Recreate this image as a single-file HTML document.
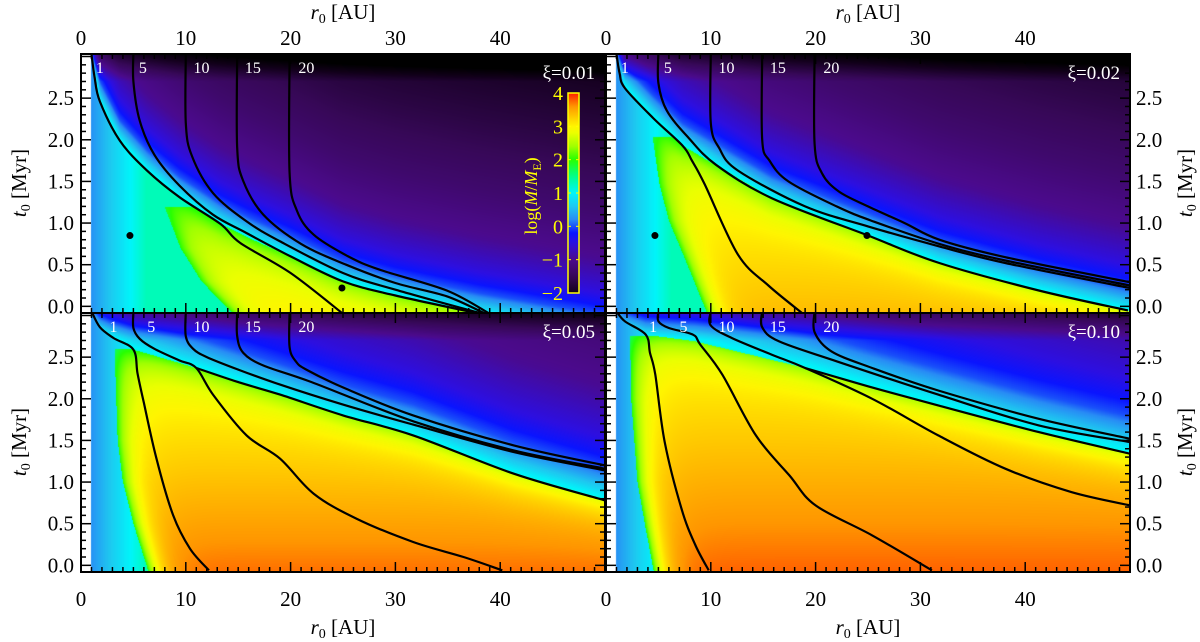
<!DOCTYPE html>
<html><head><meta charset="utf-8">
<style>
html,body{margin:0;padding:0;background:#fff;}
#wrap{position:relative;width:1200px;height:642px;overflow:hidden;background:#fff;font-family:"Liberation Serif",serif;}
canvas{position:absolute;}
svg{position:absolute;left:0;top:0;}
</style></head>
<body>
<div id="wrap">
<canvas id="cv0" width="524" height="259" style="left:81px;top:54px"></canvas>
<canvas id="cv1" width="524" height="259" style="left:606px;top:54px"></canvas>
<canvas id="cv2" width="524" height="259" style="left:81px;top:313px"></canvas>
<canvas id="cv3" width="524" height="259" style="left:606px;top:313px"></canvas>
<svg id="ov" width="1200" height="642"></svg>
</div>
<script>
// ---- data ----
const xiLabels = ["ξ=0.01","ξ=0.02","ξ=0.05","ξ=0.10"];
const contourLabels = ["1","5","10","15","20"];
const xTicks = [0,10,20,30,40];
const yTicks = [0.0,0.5,1.0,1.5,2.0,2.5];
const cbTicks = [-2,-1,0,1,2,3,4];
// contour lines [r0, t0]
const p1_c1=[[1,3.03],[1.3,2.75],[1.8,2.46],[3.7,1.99],[6.3,1.63],[9.4,1.31],[13.3,0.99],[15.2,0.76],[20,0.4],[25,-0.09]];
const p1_c5=[[5,3.05],[5,2.7],[5.6,2.23],[7,1.82],[9.4,1.45],[12.6,1.1],[15.8,0.88],[20,0.6],[25,0.3],[30,0.13],[38.1,-0.09]];
const p1_c10=[[10,3.05],[10,2.2],[10.6,1.8],[12.6,1.36],[15.8,1.02],[19,0.78],[25,0.4],[30,0.2],[38.3,-0.09]];
const p1_c15=[[14.9,3.05],[14.9,1.9],[15.5,1.5],[17.4,1.1],[21,0.75],[25.3,0.5],[30,0.28],[34.9,0.12],[38.6,-0.09]];
const p1_c20=[[19.9,3.05],[19.9,1.6],[20.6,1.15],[22.2,0.86],[25.5,0.6],[28.5,0.44],[34.9,0.19],[39.0,-0.09]];
const p2_c1=[[1,3.03],[1.3,2.8],[1.8,2.62],[4.5,2.26],[7.3,1.93],[8.2,1.75],[9.4,1.47],[12.6,0.62],[15.5,0.25],[18.8,-0.09]];
const p2_c5=[[5,3.05],[5,2.68],[5.8,2.35],[7.9,2.02],[10.5,1.7],[15.8,1.3],[25,0.85],[31.8,0.52],[41.3,0.19],[49.8,-0.05]];
const p2_c10=[[10,3.05],[10,2.2],[10.8,1.9],[12.6,1.63],[19,1.2],[25,0.96],[31.8,0.72],[38.1,0.52],[50,0.22]];
const p2_c15=[[14.9,3.05],[14.9,2.0],[15.6,1.75],[17.4,1.5],[22,1.2],[25.3,1.03],[31.8,0.75],[38.1,0.55],[50,0.25]];
const p2_c20=[[19.9,3.05],[19.9,1.95],[20.6,1.6],[22.2,1.38],[25,1.2],[28.5,1.0],[31.8,0.8],[38.1,0.59],[50,0.29]];
const p3_c1=[[1,3.05],[1.8,2.86],[3.1,2.73],[5,2.59],[5.4,2.3],[6,1.95],[7.2,1.28],[8.8,0.6],[10.4,0.2],[12.2,-0.06]];
const p3_c5=[[5,3.05],[5,2.85],[5.6,2.72],[7,2.6],[9.4,2.46],[11,2.37],[12.6,2.05],[15.8,1.56],[19,1.28],[22.2,0.86],[26.3,0.56],[31.7,0.28],[36.5,0.1],[40.2,-0.06]];
const p3_c10=[[10,3.05],[10,2.75],[10.7,2.6],[12,2.5],[15,2.35],[19,2.17],[25,1.93],[31.7,1.69],[41.3,1.36],[50,1.14]];
const p3_c15=[[14.9,3.05],[14.9,2.75],[15.5,2.55],[17.4,2.4],[22,2.2],[31.7,1.73],[41.3,1.38],[50,1.16]];
const p3_c20=[[19.9,3.05],[19.9,2.62],[20.5,2.45],[21.5,2.35],[25.3,2.12],[31.7,1.8],[41.3,1.44],[50,1.2]];
const p3_band=[[11,2.37],[15,2.2],[19,2.05],[25,1.8],[31.7,1.56],[41.3,1.1],[50,0.78]];
const p4_c1=[[1,3.05],[1.8,2.93],[3.8,2.77],[4.2,2.55],[4.7,2.29],[5.6,1.48],[7.2,0.68],[8.5,0.25],[9.8,-0.06]];
const p4_c5=[[5,3.05],[5,2.93],[6,2.85],[8.3,2.77],[9,2.65],[11.1,2.29],[14.3,1.56],[17.5,1.08],[20,0.72],[25.4,0.36],[31.1,-0.06]];
const p4_c10=[[10,3.05],[10,2.88],[12,2.73],[15.8,2.53],[19,2.37],[25.4,2.0],[31.7,1.56],[38.1,1.16],[44.4,0.88],[50,0.72]];
const p4_c15=[[14.9,3.05],[14.9,2.86],[16.5,2.69],[22,2.45],[31.7,2.05],[41.3,1.68],[50,1.48]];
const p4_c20=[[19.9,3.05],[19.9,2.8],[21.5,2.57],[25.4,2.37],[31.7,2.1],[41.3,1.76],[50,1.52]];
const p4_band=[[19,2.37],[25,2.15],[31.7,1.92],[41.3,1.6],[50,1.34]];
// region boundaries: edge [r0,t0], front [t0,r0]
const p1_edge=[[1,3.03],[1.8,2.46],[3.7,1.99],[6.3,1.63],[9.4,1.31],[13.3,0.99],[16,0.82],[20,0.6],[25,0.3],[30,0.12],[38,-0.09],[50,-0.35]];
const p2_edge=[[1,3.03],[1.8,2.62],[4.5,2.26],[7.3,1.93],[15.8,1.3],[25,0.85],[31.8,0.52],[41.3,0.19],[50,-0.06]];
const p3_edge=[[1,3.05],[1.8,2.86],[3.1,2.73],[5,2.59],[11,2.37],[19,2.05],[25,1.8],[31.7,1.56],[41.3,1.1],[50,0.78]];
const p4_edge=[[1,3.05],[1.8,2.93],[3.8,2.77],[8.5,2.69],[19,2.37],[25,2.15],[31.7,1.92],[41.3,1.6],[50,1.34]];
const p1_front=[[1.19,8],[0.7,9.5],[0.3,11.5],[-0.1,14.6]];
const p2_front=[[2.03,4.45],[1.47,5.1],[1.03,6.0],[0.55,7.6],[-0.1,9.7]];
const p3_front=[[2.6,3.2],[1.5,3.5],[1.0,4.0],[0.5,5.0],[-0.1,6.5]];
const p4_front=[[2.75,2.3],[2.0,2.4],[1.0,3.0],[0.5,3.7],[-0.1,4.6]];
const grownBase=[3.0,3.35,3.7,3.75];
const grownSlope=[0.3,0.3,0.35,0.3];
const bandScale=[1.0,1.1,1.5,1.8];
const aboveDist=[0,0.08,0.25,0.5,0.9,1.5,2.3,3.2];
const aboveVal=[1.1,0.7,0.0,-0.5,-0.95,-1.3,-1.65,-2.0];
const p1_dots=[[4.67,0.85],[24.9,0.22]];
const p2_dots=[[4.67,0.85],[24.9,0.85]];
const labelR=[[1.8,5.9,11.5,16.4,21.5],[1.8,5.9,11.5,16.4,21.5],[3.1,6.7,11.5,16.4,21.5],[4.5,7.4,11.5,16.4,21.5]];

// ---- geometry ----
const W=524,H=259,R0=0,R1=50,T0=-0.08,T1=3.03;
const origins=[[81,54],[606,54],[81,313],[606,313]];
function xs(p,r){return origins[p][0]+(r-R0)/(R1-R0)*W;}
function ys(p,t){return origins[p][1]+(T1-t)/(T1-T0)*H;}

const stops=[[-2.3,[0,0,0]],[-2.0,[18,0,26]],[-1.5,[55,8,88]],[-1.0,[75,10,140]],[-0.5,[45,15,225]],[-0.2,[10,20,255]],[0.2,[40,140,245]],[0.6,[30,200,240]],[1.0,[0,245,250]],[1.5,[0,255,140]],[2.0,[40,255,0]],[2.4,[160,255,0]],[2.8,[235,255,0]],[3.0,[255,245,0]],[3.3,[255,200,0]],[3.6,[255,150,0]],[4.0,[255,30,0]]];
function cmap(v){
  if(v<=stops[0][0])return stops[0][1];
  for(let i=1;i<stops.length;i++){if(v<=stops[i][0]){const a=stops[i-1],b=stops[i],f=(v-a[0])/(b[0]-a[0]);return [0,1,2].map(k=>a[1][k]+(b[1][k]-a[1][k])*f);}}
  return stops[stops.length-1][1];
}
function interp(arr,x){
  if(x<=arr[0][0])return arr[0][1];
  for(let i=1;i<arr.length;i++){if(x<=arr[i][0]){const a=arr[i-1],b=arr[i];return a[1]+(b[1]-a[1])*(x-a[0])/(b[0]-a[0]);}}
  return arr[arr.length-1][1];
}
function frontR(fr,t){
  if(t>fr[0][0])return Infinity;
  for(let i=1;i<fr.length;i++){if(t>=fr[i][0]){const a=fr[i-1],b=fr[i];return a[1]+(b[1]-a[1])*(t-a[0])/(b[0]-a[0]);}}
  return fr[fr.length-1][1];
}
const edges=[p1_edge,p2_edge,p3_edge,p4_edge];
const fronts=[p1_front,p2_front,p3_front,p4_front];
const aboveTable=aboveDist.map((d,i)=>[d,aboveVal[i]]);
function value(p,r,t){
  const E=interp(edges[p],r);
  if(t>E){let v=interp(aboveTable,(t-E)/bandScale[p]);v-=Math.max(0,t-2.7)*2.5;return v;}
  const F=frontR(fronts[p],t);
  if(r<F){return Math.min(1.3,0.25+0.2*(r-1));}
  const g=grownBase[p]-grownSlope[p]*t;
  let v=g-(g-2.0)*Math.exp(-(r-F)/1.2);
  v-=0.7*Math.exp(-(E-t)/0.2);
  return v;
}
for(let p=0;p<4;p++){
  const c=document.getElementById('cv'+p).getContext('2d');
  const img=c.createImageData(W,H);
  for(let py=0;py<H;py++){for(let px=0;px<W;px++){
    const r=R0+(px+0.5)/W*(R1-R0),t=T1-(py+0.5)/H*(T1-T0);
    const i=(py*W+px)*4;
    if(r<1){img.data[i]=255;img.data[i+1]=255;img.data[i+2]=255;img.data[i+3]=255;continue;}
    const col=cmap(value(p,r,t));
    img.data[i]=col[0];img.data[i+1]=col[1];img.data[i+2]=col[2];img.data[i+3]=255;
  }}
  c.putImageData(img,0,0);
}

// ---- overlay ----
const NS="http://www.w3.org/2000/svg";
const svg=document.getElementById('ov');
function mk(tag,attrs,parent){const e=document.createElementNS(NS,tag);for(const k in attrs)e.setAttribute(k,attrs[k]);(parent||svg).appendChild(e);return e;}
function smoothPath(pts){
  let d="M"+pts[0][0].toFixed(1)+","+pts[0][1].toFixed(1);
  for(let i=0;i<pts.length-1;i++){
    const p0=pts[Math.max(0,i-1)],p1=pts[i],p2=pts[i+1],p3=pts[Math.min(pts.length-1,i+2)];
    const c1=[p1[0]+(p2[0]-p0[0])/6,p1[1]+(p2[1]-p0[1])/6],c2=[p2[0]-(p3[0]-p1[0])/6,p2[1]-(p3[1]-p1[1])/6];
    d+=" C"+c1[0].toFixed(1)+","+c1[1].toFixed(1)+" "+c2[0].toFixed(1)+","+c2[1].toFixed(1)+" "+p2[0].toFixed(1)+","+p2[1].toFixed(1);
  }
  return d;
}
const defs=mk('defs',{});
for(let p=0;p<4;p++){const cp=mk('clipPath',{id:'clip'+p},defs);mk('rect',{x:origins[p][0],y:origins[p][1],width:W,height:H},cp);}
const contourSets=[
 [p1_c1,p1_c5,p1_c10,p1_c15,p1_c20],
 [p2_c1,p2_c5,p2_c10,p2_c15,p2_c20],
 [p3_c1,p3_c5,p3_c10,p3_c15,p3_c20,p3_band],
 [p4_c1,p4_c5,p4_c10,p4_c15,p4_c20,p4_band]];
const dotSets=[p1_dots,p2_dots,[],[]];
for(let p=0;p<4;p++){
  const g=mk('g',{'clip-path':'url(#clip'+p+')'});
  
  
  contourSets[p].forEach((line,k)=>{
    const pts=line.map(q=>[xs(p,q[0]),ys(p,q[1])]);
    const path=mk('path',{d:smoothPath(pts),fill:'none',stroke:'#000','stroke-width':2.2,'stroke-linejoin':'round'},g);
    
    
  });
  dotSets[p].forEach(q=>{
    const c=mk('circle',{cx:xs(p,q[0]),cy:ys(p,q[1]),r:3.5,fill:'#000'},g);
    
    
  });
  contourLabels.forEach((lab,k)=>{
    const tx=mk('text',{x:xs(p,labelR[p][k]),y:origins[p][1]+19,fill:'#fff','font-size':16,'text-anchor':'middle','font-family':'Liberation Serif, serif'},svg);
    tx.textContent=lab;
    
    
  });
  const xt=mk('text',{x:origins[p][0]+W-10,y:origins[p][1]+25,fill:'#fff','font-size':19,'text-anchor':'end','font-family':'Liberation Serif, serif'});
  xt.textContent=xiLabels[p];
  
  
  const tg=mk('g',{stroke:'#000','stroke-width':1.5});
  
  
  const x0=origins[p][0],y0=origins[p][1];
  for(let r=0;r<=50;r+=1){
    const L=(r%10===0)?10:5,x=xs(p,r);
    mk('line',{x1:x,y1:y0+H,x2:x,y2:y0+H-L},tg);
    mk('line',{x1:x,y1:y0,x2:x,y2:y0+L},tg);
  }
  for(let i=0;i<=30;i++){
    const t=i/10,L=(i%5===0)?10:5,y=ys(p,t);
    mk('line',{x1:x0,y1:y,x2:x0+L,y2:y},tg);
    mk('line',{x1:x0+W,y1:y,x2:x0+W-L,y2:y},tg);
  }
  const fr=mk('rect',{x:x0,y:y0,width:W,height:H,fill:'none',stroke:'#000','stroke-width':2});
  
  
}
function txt(x,y,s,anchor,size,name){const t=mk('text',{x:x,y:y,'font-size':size||21,'text-anchor':anchor||'middle','font-family':'Liberation Serif, serif',fill:'#000'});t.textContent=s;return t;}
[0,1].forEach(p=>xTicks.forEach(v=>txt(xs(p,v),45,String(v),'middle',21,'top-x-tick-label')));
[2,3].forEach(p=>xTicks.forEach(v=>txt(xs(p,v),606,String(v),'middle',21,'bottom-x-tick-label')));
[0,2].forEach(p=>yTicks.forEach(v=>txt(74,ys(p,v)+7,v.toFixed(1),'end',21,'left-y-tick-label')));
[1,3].forEach(p=>yTicks.forEach(v=>txt(1136,ys(p,v)+7,v.toFixed(1),'start',21,'right-y-tick-label')));
function rTitle(cx,y,name){const t=mk('text',{x:cx,y:y,'font-size':21,'text-anchor':'middle','font-family':'Liberation Serif, serif'});
  t.innerHTML='<tspan font-style="italic">r</tspan><tspan font-size="14" dy="4">0</tspan><tspan dy="-4"> [AU]</tspan>';
  }
rTitle(343,19,'top-x-axis-title');rTitle(868,19,'top-x-axis-title');
rTitle(343,634,'bottom-x-axis-title');rTitle(868,634,'bottom-x-axis-title');
function tTitle(x,cy,name){const t=mk('text',{x:0,y:0,'font-size':21,'text-anchor':'middle','font-family':'Liberation Serif, serif',transform:'translate('+x+','+cy+') rotate(-90)'});
  t.innerHTML='<tspan font-style="italic">t</tspan><tspan font-size="14" dy="4">0</tspan><tspan dy="-4"> [Myr]</tspan>';
  }
tTitle(26,183,'left-y-axis-title');tTitle(26,442,'left-y-axis-title');
tTitle(1192,183,'right-y-axis-title');tTitle(1192,442,'right-y-axis-title');
const CBmin=-2,CBmax=4,cbX=568,cbY0=93,cbY1=293;
function cby(v){return cbY1-(v-CBmin)/(CBmax-CBmin)*(cbY1-cbY0);}
const lg=mk('linearGradient',{id:'cbg',x1:0,y1:1,x2:0,y2:0},defs);
for(let i=0;i<=30;i++){const v=CBmin+(CBmax-CBmin)*i/30,c=cmap(v);mk('stop',{offset:(i/30).toFixed(3),'stop-color':'rgb('+c.map(Math.round).join(',')+')'},lg);}
const cb=mk('rect',{x:cbX,y:cbY0,width:11,height:cbY1-cbY0,fill:'url(#cbg)',stroke:'#ffff00','stroke-width':1.5});


cbTicks.forEach(v=>{
  mk('line',{x1:cbX,y1:cby(v),x2:cbX+3,y2:cby(v),stroke:'#ffff00','stroke-width':1});
  mk('line',{x1:cbX+11,y1:cby(v),x2:cbX+8,y2:cby(v),stroke:'#ffff00','stroke-width':1});
  const t=mk('text',{x:563,y:cby(v)+7,'font-size':20,'text-anchor':'end',fill:'#ffff00','font-family':'Liberation Serif, serif'});
  t.textContent=(v<0?'\u2212'+(-v):String(v));
  
  
});
const cbt=mk('text',{x:0,y:0,'font-size':18,'text-anchor':'middle',fill:'#ffff00','font-family':'Liberation Serif, serif',transform:'translate(537,196) rotate(-90)'});
cbt.innerHTML='log(<tspan font-style="italic">M</tspan>/<tspan font-style="italic">M</tspan><tspan font-size="12" dy="4">E</tspan><tspan dy="-4">)</tspan>';


</script>
</body></html>
